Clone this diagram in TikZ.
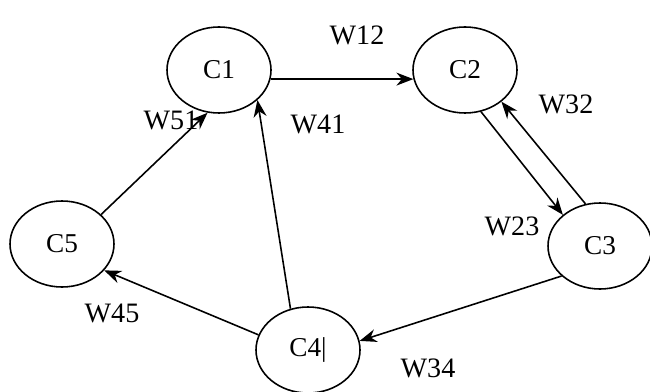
\documentclass[tikz,border=0pt]{standalone}
\usepackage{fontspec}
\setmainfont{Liberation Serif}
\usepackage{tikz}
\usetikzlibrary{arrows.meta, shapes.geometric}
\tikzset{
    concept/.style = {ellipse, draw=black, line width=0.9pt, minimum width=2.08cm,
        minimum height=1.72cm, inner sep=0pt, font=\fontsize{15.5}{18}\selectfont},
    weight/.style = {inner sep=0pt, font=\fontsize{16}{18}\selectfont},
    link/.style = {->, line width=0.9pt, >={Stealth[length=3.4mm,width=2.6mm]}},
}

\begin{document}
\begin{tikzpicture}
        \useasboundingbox (0,0) rectangle (13,7.82);
        \node (c1) [concept] at (4.38,6.42) {C1};
        \node (c2) [concept] at (9.30,6.42) {C2};
        \node (c3) [concept] at (12.00,2.90) {C3};
        \node (c4) [concept] at (6.16,0.82) {C4|};
        \node (c5) [concept] at (1.24,2.94) {C5};

        \draw [link] (c1.-10) -- (c2.190);
        \draw [link] (c5.37) -- (c1.255);
        \draw [link] (c4.113) -- (c1.322);
        \draw [link] (c2.291) -- (c3.140);
        \draw [link] (c3.109) -- (c2.319);
        \draw [link] (c3.218) -- (c4.10);
        \draw [link] (c4.163) -- (c5.328);

        \node (w12) [weight] at (7.14,7.12) {W12};
        \node (w51) [weight] at (3.42,5.42) {W51};
        \node (w41) [weight] at (6.36,5.34) {W41};
        \node (w32) [weight] at (11.32,5.74) {W32};
        \node (w23) [weight] at (10.24,3.30) {W23};
        \node (w34) [weight] at (8.56,0.46) {W34};
        \node (w45) [weight] at (2.24,1.56) {W45};
        \end{tikzpicture}
\end{document}
